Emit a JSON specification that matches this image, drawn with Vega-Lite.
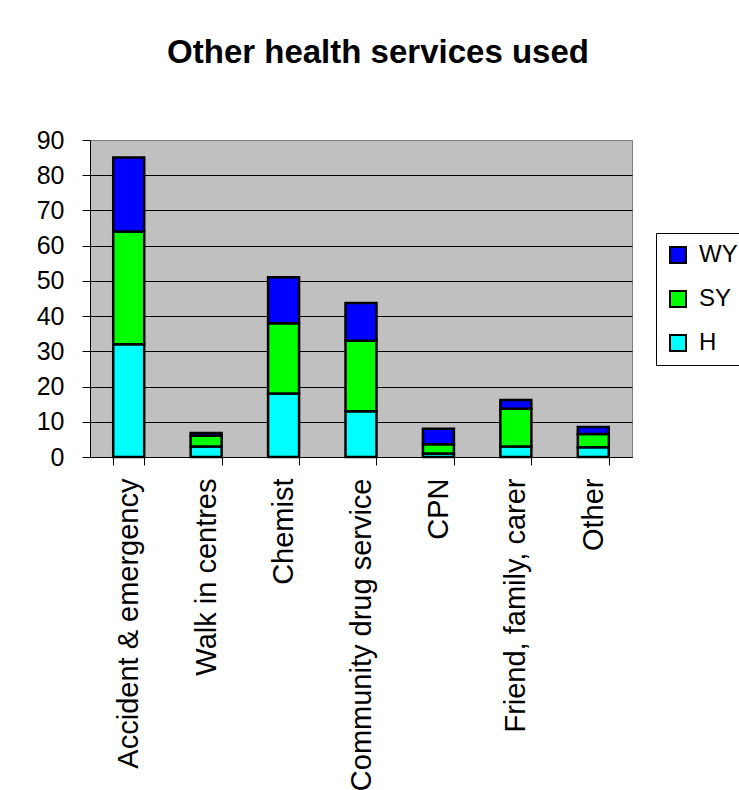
{
  "$schema": "https://vega.github.io/schema/vega-lite/v6.json",
  "width": 542,
  "height": 317,
  "autosize": {"type": "none"},
  "padding": {"left": 90, "top": 140, "right": 107, "bottom": 333},
  "background": "white",
  "title": {
    "text": "Other health services used",
    "font": "Liberation Sans",
    "fontSize": 33,
    "fontWeight": "bold",
    "color": "black",
    "anchor": "middle",
    "dx": 17,
    "baseline": "alphabetic",
    "offset": 32
  },
  "data": {
    "values": [
      {"service": "Accident & emergency", "region": "H", "count": 32},
      {"service": "Accident & emergency", "region": "SY", "count": 32},
      {"service": "Accident & emergency", "region": "WY", "count": 21},
      {"service": "Walk in centres", "region": "H", "count": 3},
      {"service": "Walk in centres", "region": "SY", "count": 3},
      {"service": "Walk in centres", "region": "WY", "count": 0.8},
      {"service": "Chemist", "region": "H", "count": 18},
      {"service": "Chemist", "region": "SY", "count": 20},
      {"service": "Chemist", "region": "WY", "count": 13},
      {"service": "Community drug service", "region": "H", "count": 13},
      {"service": "Community drug service", "region": "SY", "count": 20},
      {"service": "Community drug service", "region": "WY", "count": 10.7},
      {"service": "CPN", "region": "H", "count": 1},
      {"service": "CPN", "region": "SY", "count": 2.6},
      {"service": "CPN", "region": "WY", "count": 4.4},
      {"service": "Friend, family, carer", "region": "H", "count": 3},
      {"service": "Friend, family, carer", "region": "SY", "count": 10.7},
      {"service": "Friend, family, carer", "region": "WY", "count": 2.5},
      {"service": "Other", "region": "H", "count": 2.8},
      {"service": "Other", "region": "SY", "count": 3.7},
      {"service": "Other", "region": "WY", "count": 2}
    ]
  },
  "mark": {"type": "bar", "stroke": "black", "strokeWidth": 2.5},
  "encoding": {
    "x": {
      "field": "service",
      "type": "nominal",
      "sort": null,
      "scale": {"paddingInner": 0.6, "paddingOuter": 0.3},
      "axis": {
        "title": null,
        "labelAngle": -90,
        "labelAlign": "right",
        "labelBaseline": "middle",
        "labelFont": "Liberation Sans",
        "labelFontSize": 29,
        "labelColor": "black",
        "labelPadding": 13,
        "labelLimit": 500,
        "tickBand": "extent",
        "tickSize": 8,
        "tickColor": "black",
        "domainColor": "black",
        "domainWidth": 1
      }
    },
    "y": {
      "field": "count",
      "type": "quantitative",
      "stack": "zero",
      "scale": {"domain": [0, 90], "nice": false},
      "axis": {
        "title": null,
        "values": [0, 10, 20, 30, 40, 50, 60, 70, 80, 90],
        "labelFont": "Liberation Sans",
        "labelFontSize": 25,
        "labelColor": "black",
        "labelPadding": 18,
        "tickSize": 8,
        "tickColor": "black",
        "domainColor": "black",
        "domainWidth": 1,
        "grid": true,
        "gridWidth": 1,
        "gridColor": {"condition": {"test": "datum.value === 90", "value": "#808080"}, "value": "#000000"}
      }
    },
    "color": {
      "field": "region",
      "type": "nominal",
      "scale": {"domain": ["WY", "SY", "H"], "range": ["#0000FF", "#00FF00", "#00FFFF"]},
      "legend": {
        "title": null,
        "orient": "none",
        "legendX": 566,
        "legendY": 93,
        "direction": "vertical",
        "strokeColor": "black",
        "fillColor": "white",
        "padding": 10,
        "symbolType": "square",
        "symbolSize": 256,
        "symbolStrokeColor": "black",
        "symbolStrokeWidth": 2,
        "symbolOpacity": 1,
        "labelFont": "Liberation Sans",
        "labelFontSize": 24,
        "labelColor": "black",
        "labelOffset": 9,
        "rowPadding": 20
      }
    },
    "order": {"field": "region", "type": "ordinal", "sort": "ascending"}
  },
  "config": {
    "font": "Liberation Sans",
    "view": {"fill": "#C0C0C0", "stroke": "#808080", "strokeWidth": 1}
  }
}
